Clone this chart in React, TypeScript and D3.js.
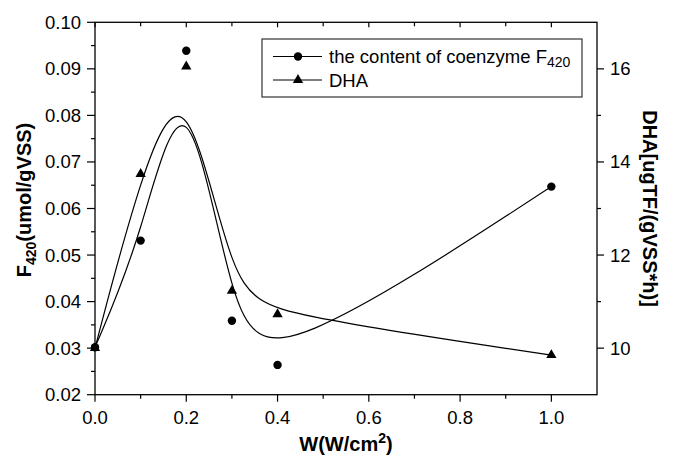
import React, { useRef, useEffect } from "react";
import * as d3 from "d3";

// power density W (W/cm2)
const powers = [0, 0.1, 0.2, 0.3, 0.4, 1.0];
// content of coenzyme F420 (umol/gVSS), left axis
const f420 = [0.0302, 0.0531, 0.0939, 0.0359, 0.0264, 0.0647];
// DHA (ugTF/(gVSS*h)), right axis
const dha = [10.0, 13.74, 16.05, 11.23, 10.73, 9.85];

const xMajor = [0, 0.2, 0.4, 0.6, 0.8, 1.0];
const xMinor = [0.1, 0.3, 0.5, 0.7, 0.9];
const yLeftMajor = [0.02, 0.03, 0.04, 0.05, 0.06, 0.07, 0.08, 0.09, 0.1];
const yLeftMinor = [0.025, 0.035, 0.045, 0.055, 0.065, 0.075, 0.085, 0.095];
const yRightMajor = [10, 12, 14, 16];
const yRightMinor = [11, 13, 15];

const W = 673;
const H = 457;
const font = "'Liberation Sans', Arial, sans-serif";

function App() {
  const svgRef = useRef<SVGSVGElement>(null);

  useEffect(() => {
    const svg = d3.select(svgRef.current);
    svg.selectAll("*").remove();

    const left = 95;
    const right = 597;
    const top = 22.3;
    const bottom = 394.7;

    const x = d3.scaleLinear().domain([0, 1.1]).range([left, right]);
    const yL = d3.scaleLinear().domain([0.02, 0.1]).range([bottom, top]);
    const yR = d3.scaleLinear().domain([9, 17]).range([bottom, top]);

    const g = svg.append("g");

    // frame
    g.append("rect")
      .attr("x", left)
      .attr("y", top)
      .attr("width", right - left)
      .attr("height", bottom - top)
      .attr("fill", "none")
      .attr("stroke", "#000")
      .attr("stroke-width", 1.3);

    const tick = (x1: number, y1: number, x2: number, y2: number) =>
      g.append("line")
        .attr("x1", x1).attr("y1", y1).attr("x2", x2).attr("y2", y2)
        .attr("stroke", "#000").attr("stroke-width", 1.2);

    // bottom + top ticks
    xMajor.forEach((v) => {
      tick(x(v), bottom, x(v), bottom + 7);
      tick(x(v), top, x(v), top + 5);
      g.append("text")
        .attr("x", x(v))
        .attr("y", bottom + 29)
        .attr("text-anchor", "middle")
        .attr("font-size", 18.5)
        .text(d3.format(".1f")(v));
    });
    xMinor.forEach((v) => {
      tick(x(v), bottom, x(v), bottom + 4);
      tick(x(v), top, x(v), top + 4);
    });

    // left axis
    yLeftMajor.forEach((v) => {
      tick(left - 8, yL(v), left, yL(v));
      g.append("text")
        .attr("x", left - 14)
        .attr("y", yL(v) + 6.5)
        .attr("text-anchor", "end")
        .attr("font-size", 18.5)
        .text(d3.format(".2f")(v));
    });
    yLeftMinor.forEach((v) => tick(left - 4, yL(v), left, yL(v)));

    // right axis
    yRightMajor.forEach((v) => {
      tick(right, yR(v), right + 7, yR(v));
      g.append("text")
        .attr("x", right + 13)
        .attr("y", yR(v) + 6.5)
        .attr("font-size", 18.5)
        .text(v);
    });
    yRightMinor.forEach((v) => tick(right, yR(v), right + 4, yR(v)));

    // axis titles
    const xt = g.append("text")
      .attr("x", (left + right) / 2)
      .attr("y", 451)
      .attr("text-anchor", "middle")
      .attr("font-size", 20)
      .attr("font-weight", "bold");
    xt.append("tspan").text("W(W/cm");
    xt.append("tspan").attr("font-size", 14).attr("dy", -8).text("2");
    xt.append("tspan").attr("dy", 8).text(")");

    const yt = g.append("text")
      .attr("transform", `translate(31,${200}) rotate(-90)`)
      .attr("text-anchor", "middle")
      .attr("font-size", 20)
      .attr("font-weight", "bold");
    yt.append("tspan").text("F");
    yt.append("tspan").attr("font-size", 14).attr("dy", 5).text("420");
    yt.append("tspan").attr("dy", -5).text("(umol/gVSS)");

    g.append("text")
      .attr("transform", `translate(643,${(top + bottom) / 2}) rotate(90)`)
      .attr("text-anchor", "middle")
      .attr("font-size", 20)
      .attr("font-weight", "bold")
      .text("DHA[ugTF/(gVSS*h)]");

    // B-spline curves using data as control points
    const f420Line = d3.line<number>()
      .x((_, i) => x(powers[i]))
      .y((d) => yL(d))
      .curve(d3.curveBasis);
    const dhaLine = d3.line<number>()
      .x((_, i) => x(powers[i]))
      .y((d) => yR(d))
      .curve(d3.curveBasis);

    g.append("path")
      .attr("d", f420Line(f420))
      .attr("fill", "none")
      .attr("stroke", "#000")
      .attr("stroke-width", 1.2);
    g.append("path")
      .attr("d", dhaLine(dha))
      .attr("fill", "none")
      .attr("stroke", "#000")
      .attr("stroke-width", 1.2);

    const tri = d3.symbol().type(d3.symbolTriangle).size(46);

    g.selectAll(".dot")
      .data(f420)
      .join("circle")
      .attr("class", "dot")
      .attr("cx", (_, i) => x(powers[i]))
      .attr("cy", (d) => yL(d))
      .attr("r", 4.2)
      .attr("fill", "#000");

    g.selectAll(".tri")
      .data(dha)
      .join("path")
      .attr("class", "tri")
      .attr("d", tri)
      .attr("transform", (d, i) => `translate(${x(powers[i])},${yR(d)})`)
      .attr("fill", "#000");

    // legend
    const lg = g.append("g");
    lg.append("rect")
      .attr("x", 262)
      .attr("y", 39)
      .attr("width", 320)
      .attr("height", 58)
      .attr("fill", "#fff")
      .attr("stroke", "#333")
      .attr("stroke-width", 1.2);
    const rows = [
      { y: 56.5, kind: "circle" },
      { y: 80, kind: "tri" },
    ];
    rows.forEach((r) => {
      lg.append("line")
        .attr("x1", 273).attr("x2", 322)
        .attr("y1", r.y).attr("y2", r.y)
        .attr("stroke", "#000").attr("stroke-width", 1.2);
      if (r.kind === "circle") {
        lg.append("circle").attr("cx", 298).attr("cy", r.y).attr("r", 4.2).attr("fill", "#000");
      } else {
        lg.append("path").attr("d", tri).attr("transform", `translate(298,${r.y})`).attr("fill", "#000");
      }
    });
    const t1 = lg.append("text").attr("x", 329).attr("y", 63).attr("font-size", 18.5);
    t1.append("tspan").text("the content of coenzyme F");
    t1.append("tspan").attr("font-size", 14).attr("dy", 4).text("420");
    lg.append("text").attr("x", 329).attr("y", 87).attr("font-size", 18.5).text("DHA");
  }, []);

  return (
    <div style={{ position: "absolute", left: 0, top: 0 }}>
      <svg ref={svgRef} width={W} height={H} style={{ display: "block", fontFamily: font, background: "#fff" }}></svg>
    </div>
  );
}

export default App;
